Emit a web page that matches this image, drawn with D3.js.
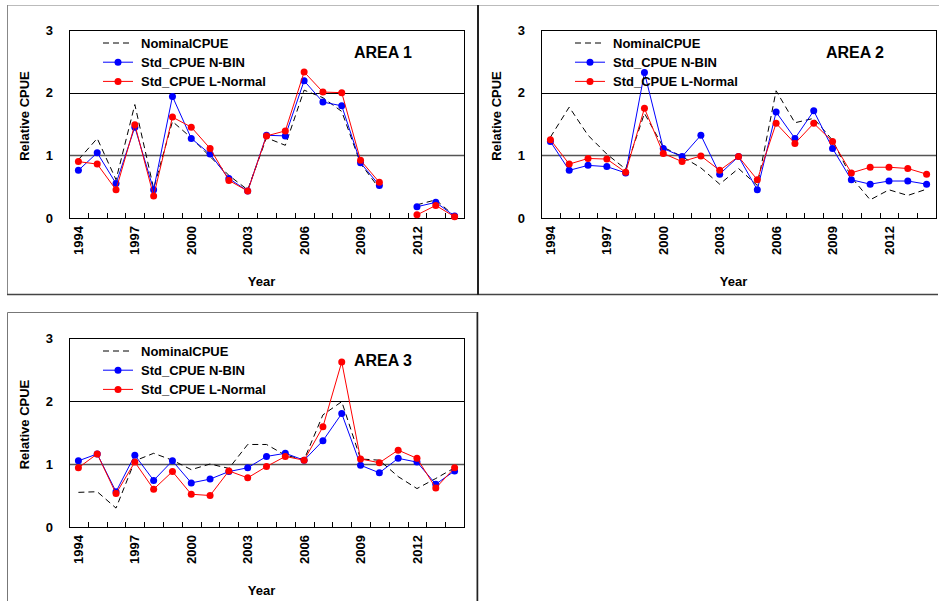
<!DOCTYPE html>
<meta charset="utf-8">
<style>

body {
  margin: 0;
  background: #fff;
}

text {
  font-family: "Liberation Sans", Arial, Helvetica, sans-serif;
  font-weight: bold;
  fill: #000;
}

.tick-label {
  font-size: 13px;
}

.legend-label {
  font-size: 13px;
}

.area-label {
  font-size: 16px;
}

.axis-title {
  font-size: 13px;
}

</style>
<svg width="939" height="601"></svg>
<script src="https://d3js.org/d3.v7.min.js"></script>
<script>

var years = d3.range(1994, 2015);
var yearLabels = [1994, 1997, 2000, 2003, 2006, 2009, 2012];
var yTicks = [0, 1, 2, 3];
var seriesNames = ["NominalCPUE", "Std_CPUE N-BIN", "Std_CPUE L-Normal"];

// Area 1 (no data for 2011)
var area1Nominal = [0.93, 1.27, 0.61, 1.81, 0.47, 1.54, 1.28, 0.98, 0.68, 0.45, 1.28, 1.16, 2.04, 1.92, 1.70, 0.87, 0.47, null, 0.21, 0.29, 0.03];
var area1NBin    = [0.76, 1.04, 0.55, 1.45, 0.45, 1.94, 1.27, 1.02, 0.63, 0.43, 1.32, 1.31, 2.19, 1.85, 1.79, 0.88, 0.52, null, 0.18, 0.25, 0.03];
var area1LNormal = [0.90, 0.86, 0.45, 1.49, 0.35, 1.61, 1.45, 1.11, 0.60, 0.43, 1.31, 1.39, 2.33, 2.01, 2.00, 0.92, 0.57, null, 0.05, 0.20, 0.02];

// Area 2
var area2Nominal = [1.29, 1.77, 1.32, 1.02, 0.78, 1.67, 1.13, 0.98, 0.80, 0.54, 0.79, 0.52, 2.03, 1.52, 1.59, 1.24, 0.65, 0.29, 0.45, 0.36, 0.46];
var area2NBin    = [1.22, 0.76, 0.84, 0.82, 0.72, 2.32, 1.11, 0.98, 1.32, 0.70, 0.98, 0.45, 1.69, 1.27, 1.71, 1.11, 0.61, 0.54, 0.59, 0.59, 0.54];
var area2LNormal = [1.25, 0.86, 0.95, 0.94, 0.73, 1.75, 1.03, 0.90, 0.99, 0.76, 0.98, 0.61, 1.51, 1.19, 1.51, 1.22, 0.72, 0.81, 0.81, 0.79, 0.70];

// Area 3
var area3Nominal = [0.55, 0.56, 0.30, 1.05, 1.17, 1.06, 0.91, 1.00, 0.93, 1.31, 1.31, 1.14, 1.07, 1.78, 1.99, 1.08, 1.06, 0.80, 0.61, 0.77, 0.94];
var area3NBin    = [1.05, 1.16, 0.56, 1.14, 0.74, 1.05, 0.70, 0.76, 0.88, 0.94, 1.12, 1.17, 1.06, 1.37, 1.80, 0.98, 0.86, 1.09, 1.03, 0.68, 0.89];
var area3LNormal = [0.94, 1.16, 0.53, 1.03, 0.60, 0.88, 0.52, 0.50, 0.89, 0.78, 0.96, 1.12, 1.06, 1.59, 2.62, 1.08, 1.02, 1.22, 1.09, 0.62, 0.94];

var svg = d3.select("svg");

// panel frames
var frame = svg.append("g").attr("fill", "none");
frame.append("line").attr("x1", 7).attr("x2", 939).attr("y1", 5.5).attr("y2", 5.5)
    .attr("stroke", "#bbb").attr("stroke-width", 1);
frame.append("line").attr("x1", 7.5).attr("x2", 7.5).attr("y1", 5).attr("y2", 294)
    .attr("stroke", "#888").attr("stroke-width", 1);
frame.append("line").attr("x1", 7).attr("x2", 938).attr("y1", 294.5).attr("y2", 294.5)
    .attr("stroke", "#444").attr("stroke-width", 1.5);
frame.append("line").attr("x1", 478).attr("x2", 478).attr("y1", 5).attr("y2", 295)
    .attr("stroke", "#222").attr("stroke-width", 2);
frame.append("path").attr("d", "M7.5,606V312.5H477V606")
    .attr("stroke", "#777").attr("stroke-width", 1);
frame.append("line").attr("x1", 477.5).attr("x2", 477.5).attr("y1", 312).attr("y2", 606)
    .attr("stroke", "#222").attr("stroke-width", 1.5);

drawPanel({ left: 69, right: 464, top: 30, bottom: 218, title: "AREA 1",
  series: [area1Nominal, area1NBin, area1LNormal] });
drawPanel({ left: 541, right: 936, top: 30, bottom: 218, title: "AREA 2",
  series: [area2Nominal, area2NBin, area2LNormal] });
drawPanel({ left: 69, right: 464, top: 338, bottom: 527, title: "AREA 3",
  series: [area3Nominal, area3NBin, area3LNormal] });

function drawPanel(p) {
  var g = svg.append("g");

  var x = d3.scaleBand()
      .domain(years)
      .range([p.left, p.right])
      .padding(0);

  var y = d3.scaleLinear()
      .domain([0, 3])
      .range([p.bottom, p.top]);

  // gridlines at 1 and 2
  g.selectAll(".grid")
    .data([1, 2])
    .enter().append("line")
      .attr("x1", p.left).attr("x2", p.right)
      .attr("y1", function(d) { return Math.round(y(d)) + 0.5; })
      .attr("y2", function(d) { return Math.round(y(d)) + 0.5; })
      .attr("stroke", function(d) { return d === 1 ? "#555" : "#000"; })
      .attr("stroke-width", function(d) { return d === 1 ? 1.5 : 1; });

  // plot box
  g.append("rect")
      .attr("x", p.left + 0.5).attr("y", p.top + 0.5)
      .attr("width", p.right - p.left).attr("height", p.bottom - p.top)
      .attr("fill", "none").attr("stroke", "#000").attr("stroke-width", 1);

  // x ticks on band edges, pointing up
  g.selectAll(".xtick")
    .data(years.slice(1))
    .enter().append("line")
      .attr("x1", function(d) { return Math.round(x(d)) + 0.5; })
      .attr("x2", function(d) { return Math.round(x(d)) + 0.5; })
      .attr("y1", p.bottom).attr("y2", p.bottom - 5)
      .attr("stroke", "#000");

  // y labels
  g.selectAll(".ylab")
    .data(yTicks)
    .enter().append("text")
      .attr("class", "tick-label")
      .attr("x", p.left - 16)
      .attr("y", function(d) { return y(d); })
      .attr("dy", "0.35em")
      .attr("text-anchor", "end")
      .text(function(d) { return d; });

  // x labels rotated
  g.selectAll(".xlab")
    .data(yearLabels)
    .enter().append("text")
      .attr("class", "tick-label")
      .attr("transform", function(d) {
        return "translate(" + (x(d) + x.bandwidth() / 2) + "," + (p.bottom + 8) + ")rotate(-90)";
      })
      .attr("dy", "0.35em")
      .attr("text-anchor", "end")
      .text(function(d) { return d; });

  g.append("text")
      .attr("class", "axis-title")
      .attr("transform", "translate(" + (p.left - 40) + "," + ((p.top + p.bottom) / 2 - 8) + ")rotate(-90)")
      .attr("text-anchor", "middle")
      .text("Relative CPUE");

  g.append("text")
      .attr("class", "axis-title")
      .attr("x", (p.left + p.right) / 2 - 5)
      .attr("y", p.bottom + 68)
      .attr("text-anchor", "middle")
      .text("Year");

  g.append("text")
      .attr("class", "area-label")
      .attr("x", p.right - 52)
      .attr("y", p.top + 22)
      .attr("dy", "0.35em")
      .attr("text-anchor", "end")
      .text(p.title);

  var styles = [
    { color: "#000", dash: "6,4", dots: false, width: 1 },
    { color: "#0000ff", dash: null, dots: true, width: 1 },
    { color: "#ff0000", dash: null, dots: true, width: 1 }
  ];

  var line = d3.line()
      .defined(function(d) { return d.v != null; })
      .x(function(d) { return x(d.year) + x.bandwidth() / 2; })
      .y(function(d) { return y(d.v); });

  p.series.forEach(function(values, i) {
    var s = styles[i];
    var pts = years.map(function(yr, k) { return { year: yr, v: values[k] }; });
    g.append("path")
        .datum(pts)
        .attr("fill", "none")
        .attr("stroke", s.color)
        .attr("stroke-width", s.width)
        .attr("stroke-dasharray", s.dash)
        .attr("d", line);
    if (s.dots) {
      g.selectAll(".dot" + i)
        .data(pts.filter(function(d) { return d.v != null; }))
        .enter().append("circle")
          .attr("cx", function(d) { return x(d.year) + x.bandwidth() / 2; })
          .attr("cy", function(d) { return y(d.v); })
          .attr("r", 3.5)
          .attr("fill", s.color);
    }
  });

  // legend
  var lg = g.append("g").attr("transform", "translate(" + (p.left + 34) + "," + (p.top + 13) + ")");
  seriesNames.forEach(function(name, i) {
    var s = styles[i];
    var row = lg.append("g").attr("transform", "translate(0," + (i * 19.2) + ")");
    row.append("line")
        .attr("x1", 0).attr("x2", 30)
        .attr("stroke", s.color)
        .attr("stroke-width", s.width)
        .attr("stroke-dasharray", s.dash);
    if (s.dots) {
      row.append("circle").attr("cx", 15).attr("r", 3.5).attr("fill", s.color);
    }
    row.append("text")
        .attr("class", "legend-label")
        .attr("x", 38)
        .attr("dy", "0.35em")
        .text(name);
  });
}

</script>
